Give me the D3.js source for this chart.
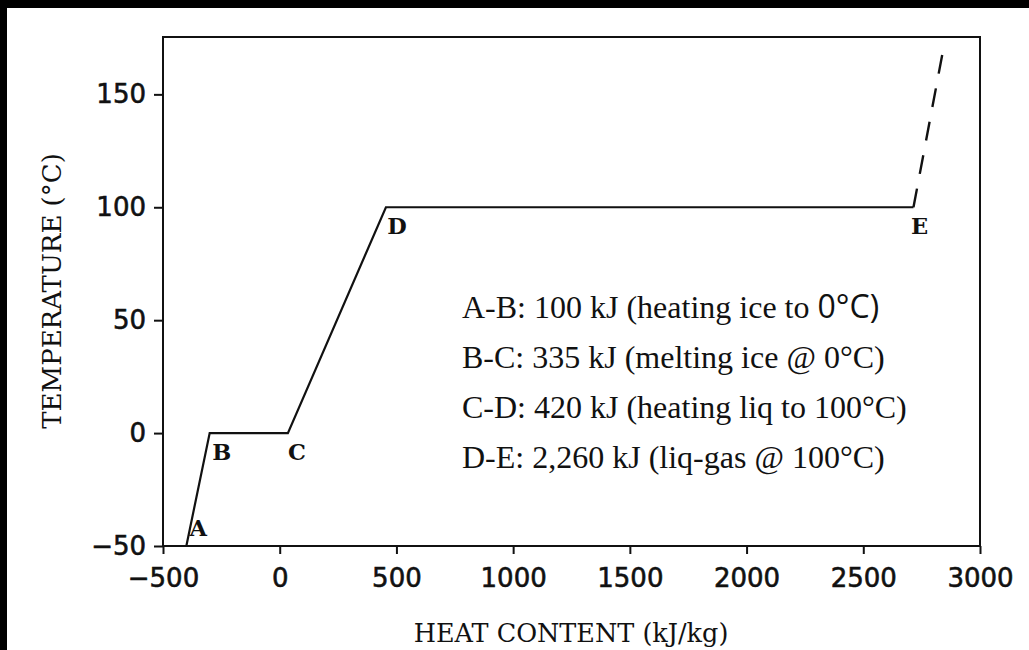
<!DOCTYPE html>
<html>
<head>
<meta charset="utf-8">
<script src="https://cdn.jsdelivr.net/npm/d3@7"></script>
<style>
	html, body { margin: 0; padding: 0; background: #fff; }
	#chart { width: 1029px; height: 650px; }
</style>
</head>
<body>
<div id="chart"></div>
<script>
// Heating curve of water (1 kg)
const heatContent = [-400, -300, 35, 455, 2715];
const temperature = [-50, 0, 0, 100, 100];
const pointLabels = ["A", "B", "C", "D", "E"];

// Dashed vapour segment after E
const vaporHeat = [2715, 2850];
const vaporTemp = [100, 174];

const xTicks = [-500, 0, 500, 1000, 1500, 2000, 2500, 3000];
const yTicks = [-50, 0, 50, 100, 150];

const notes = [
	["A-B: ", "100", " kJ (heating ice to ", "0°C)"],
	["B-C: ", "335", " kJ (melting ice @ ", "0°C)"],
	["C-D: ", "420", " kJ (heating liq to ", "100°C)"],
	["D-E: ", "2,260", " kJ (liq-gas @ ", "100°C)"]
];

// SVG Constants
const width = 1029;
const height = 650;
const margin = { top: 37, right: 49, bottom: 104, left: 163 };

const x = d3.scaleLinear()
	.domain([-500, 3000])
	.range([margin.left, width - margin.right]);

const y = d3.scaleLinear()
	.domain([-50, 175.4])
	.range([height - margin.bottom, margin.top]);

const svg = d3.select("#chart").append("svg")
	.attr("width", width)
	.attr("height", height)
	.attr("viewBox", [0, 0, width, height]);

svg.append("rect").attr("width", width).attr("height", height).attr("fill", "#fff");

// black scan edges on top and left
svg.append("rect").attr("width", width).attr("height", 8).attr("fill", "#000");
svg.append("rect").attr("width", 7).attr("height", height).attr("fill", "#000");

// Plot frame
svg.append("rect")
	.attr("x", x(-500))
	.attr("y", y(175.4))
	.attr("width", x(3000) - x(-500))
	.attr("height", y(-50) - y(175.4))
	.attr("fill", "none")
	.attr("stroke", "#111")
	.attr("stroke-width", 2);

// Axes
const xAxis = d3.axisBottom(x)
	.tickValues(xTicks)
	.tickFormat(d3.format("d"))
	.tickSize(8)
	.tickPadding(15);

const yAxis = d3.axisLeft(y)
	.tickValues(yTicks)
	.tickFormat(d3.format("d"))
	.tickSize(9)
	.tickPadding(8);

const gx = svg.append("g")
	.attr("transform", `translate(0, ${y(-50)})`)
	.call(xAxis);

const gy = svg.append("g")
	.attr("transform", `translate(${x(-500)}, 0)`)
	.call(yAxis);

[gx, gy].forEach(g => {
	g.select(".domain").remove();
	g.selectAll("line").attr("stroke", "#111").attr("stroke-width", 2);
	g.selectAll("text")
		.attr("fill", "#111")
		.attr("stroke", "#111")
		.attr("stroke-width", 0.6)
		.style("font-family", "'DejaVu Sans', sans-serif")
		.style("font-size", "26px");
});
// use a real minus sign like the original
gx.selectAll("text").text(d => d < 0 ? "\u2212" + Math.abs(d) : d);
gy.selectAll("text").text(d => d < 0 ? "\u2212" + Math.abs(d) : d);

// Axis titles
svg.append("text")
	.attr("x", 571)
	.attr("y", 642)
	.attr("text-anchor", "middle")
	.style("font-family", "'DejaVu Serif', serif")
	.style("font-size", "25.5px")
	.attr("fill", "#111")
	.text("HEAT CONTENT (kJ/kg)");

svg.append("text")
	.attr("transform", "translate(61, 291) rotate(-90)")
	.attr("text-anchor", "middle")
	.style("font-family", "'DejaVu Serif', serif")
	.style("font-size", "26px")
	.attr("fill", "#111")
	.text("TEMPERATURE (°C)");

// Heating curve
const points = heatContent.map((h, i) => [h, temperature[i]]);
const line = d3.line().x(d => x(d[0])).y(d => y(d[1]));

svg.append("path")
	.datum(points)
	.attr("d", line)
	.attr("fill", "none")
	.attr("stroke", "#111")
	.attr("stroke-width", 2.2)
	.attr("stroke-linejoin", "miter");

svg.append("path")
	.datum(vaporHeat.map((h, i) => [h, vaporTemp[i]]))
	.attr("d", line)
	.attr("fill", "none")
	.attr("stroke", "#111")
	.attr("stroke-width", 2.4)
	.attr("stroke-dasharray", "19 15");

// Point letters
const labelOffset = [[12, -10], [12, 27], [9, 27], [11, 27], [6, 27]];
svg.append("g")
	.selectAll("text")
	.data(points)
	.join("text")
	.attr("x", (d, i) => x(d[0]) + labelOffset[i][0])
	.attr("y", (d, i) => y(d[1]) + labelOffset[i][1])
	.attr("text-anchor", "middle")
	.style("font-family", "'DejaVu Serif', serif")
	.style("font-weight", "bold")
	.style("font-size", "22.5px")
	.attr("fill", "#111")
	.text((d, i) => pointLabels[i]);

// Energy notes
const noteGroup = svg.append("g")
	.style("font-family", "'Liberation Serif', serif")
	.style("font-size", "32px")
	.attr("fill", "#111");

notes.forEach((n, i) => {
	const t = noteGroup.append("text")
		.attr("x", 462)
		.attr("y", 318 + i * 50);
	t.append("tspan").text(n[0]);
	t.append("tspan").text(n[1]);
	t.append("tspan").text(n[2]);
	t.append("tspan")
		.style("font-family", i === 0 ? "'Open Sans', sans-serif" : null)
		.text(n[3]);
});
</script>
</body>
</html>
